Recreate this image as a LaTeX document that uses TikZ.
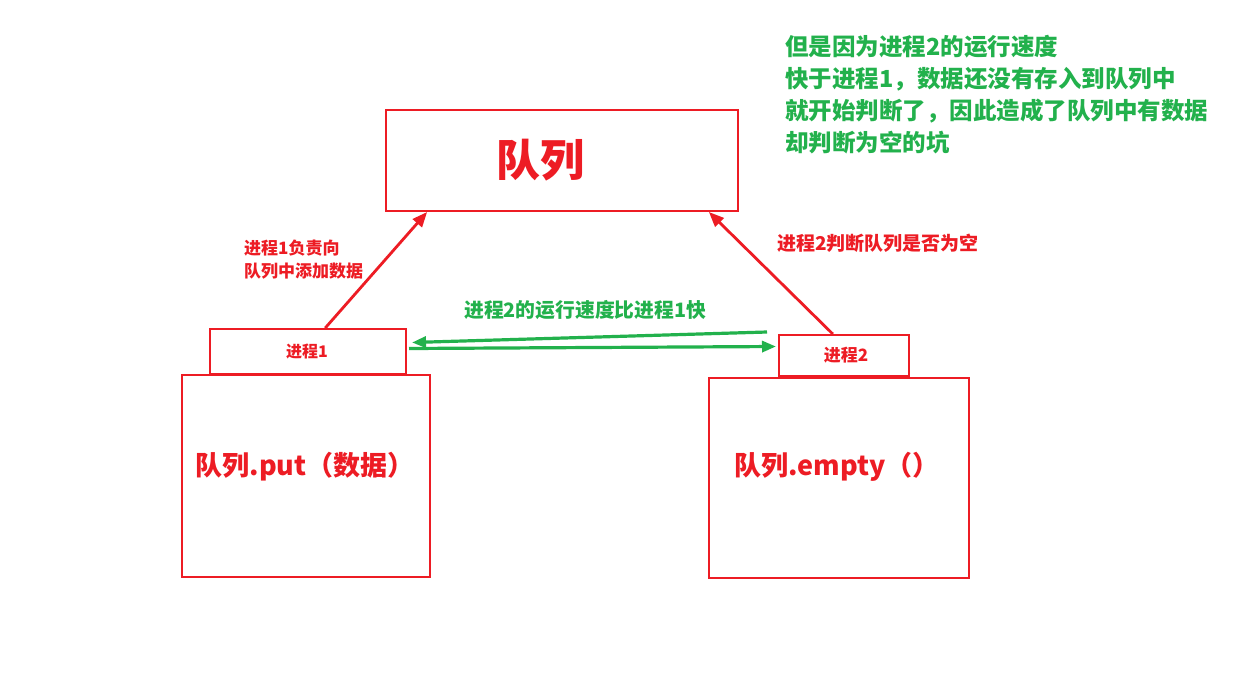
\documentclass[tikz,border=0pt]{standalone}
\usepackage{fontspec}
\setmainfont{Noto Sans CJK SC}
\usetikzlibrary{arrows.meta,calc}
\definecolor{pred}{HTML}{ED1C24}
\definecolor{pgreen}{HTML}{22B14C}
\tikzset{
  box/.style={draw=pred, line width=2pt, inner sep=0pt},
  redtxt/.style={text=pred, font=\bfseries, inner sep=0pt},
  greentxt/.style={text=pgreen, font=\bfseries, inner sep=0pt},
  redarrow/.style={draw=pred, line width=2.8pt, -{Triangle[length=15pt,width=12pt]}},
  greenarrow/.style={draw=pgreen, line width=3.2pt, -{Triangle[length=14pt,width=11pt]}}
}
\begin{document}
\begin{tikzpicture}[x=1pt,y=-1pt]
\useasboundingbox[fill=white] (0,0) rectangle (1244,672);
% boxes
\node[box, minimum width=352pt, minimum height=101pt] (queue) at (562,160.5) {};
\node[redtxt, font=\fontsize{44}{48}\selectfont\bfseries] (queuetxt) at (540,160) {队列};
\node[box, minimum width=196pt, minimum height=45pt] (p1) at (308,351.5) {};
\node[redtxt, font=\fontsize{16}{18}\selectfont\bfseries] (p1txt) at (307,352) {进程1};
\node[box, minimum width=248pt, minimum height=202pt] (put) at (306,476) {};
\node[redtxt, font=\fontsize{27}{30}\selectfont\bfseries] (puttxt) at (305,467) {队列.put（数据）};
\node[box, minimum width=130pt, minimum height=41pt] (p2) at (844,355.5) {};
\node[redtxt, font=\fontsize{17}{19}\selectfont\bfseries] (p2txt) at (846,355) {进程2};
\node[box, minimum width=260pt, minimum height=200pt] (empty) at (839,478) {};
\node[redtxt, font=\fontsize{27}{30}\selectfont\bfseries] (emptytxt) at (837,467) {队列.empty（）};
% red arrows
\coordinate (a1s) at ($(p1.north west)!0.587!(p1.north east)$);
\coordinate (a1e) at ($(queue.south west)!0.119!(queue.south east)$);
\coordinate (a2s) at ($(p2.north west)!0.415!(p2.north east)$);
\coordinate (a2e) at ($(queue.south west)!0.915!(queue.south east)$);
\draw[redarrow] (a1s) -- (a1e);
\draw[redarrow] (a2s) -- (a2e);
% green arrows
\coordinate (g1s) at ($(p2.north west)+(-11,-2)$);
\coordinate (g1e) at ($(p1.east)+(5,-9)$);
\coordinate (g2s) at ($(p1.east)+(2,-3)$);
\coordinate (g2e) at ($(p2.west)+(-2,-9)$);
\draw[greenarrow] (g1s) -- (g1e);
\draw[greenarrow] (g2s) -- (g2e);
% labels
\node[redtxt, anchor=north west, align=left, font=\fontsize{17}{23}\selectfont\bfseries] (l1) at (244,240) {进程1负责向\\队列中添加数据};
\node[redtxt, anchor=west, font=\fontsize{19}{22}\selectfont\bfseries] (l2) at (777,243) {进程2判断队列是否为空};
\node[greentxt, anchor=west, font=\fontsize{19.8}{22}\selectfont\bfseries] (l3) at (464,310) {进程2的运行速度比进程1快};
\node[greentxt, anchor=north west, align=left, font=\fontsize{23.5}{32}\selectfont\bfseries] (note) at (785,35) {但是因为进程2的运行速度\\快于进程1，数据还没有存入到队列中\\就开始判断了，因此造成了队列中有数据\\却判断为空的坑};
\end{tikzpicture}
\end{document}
